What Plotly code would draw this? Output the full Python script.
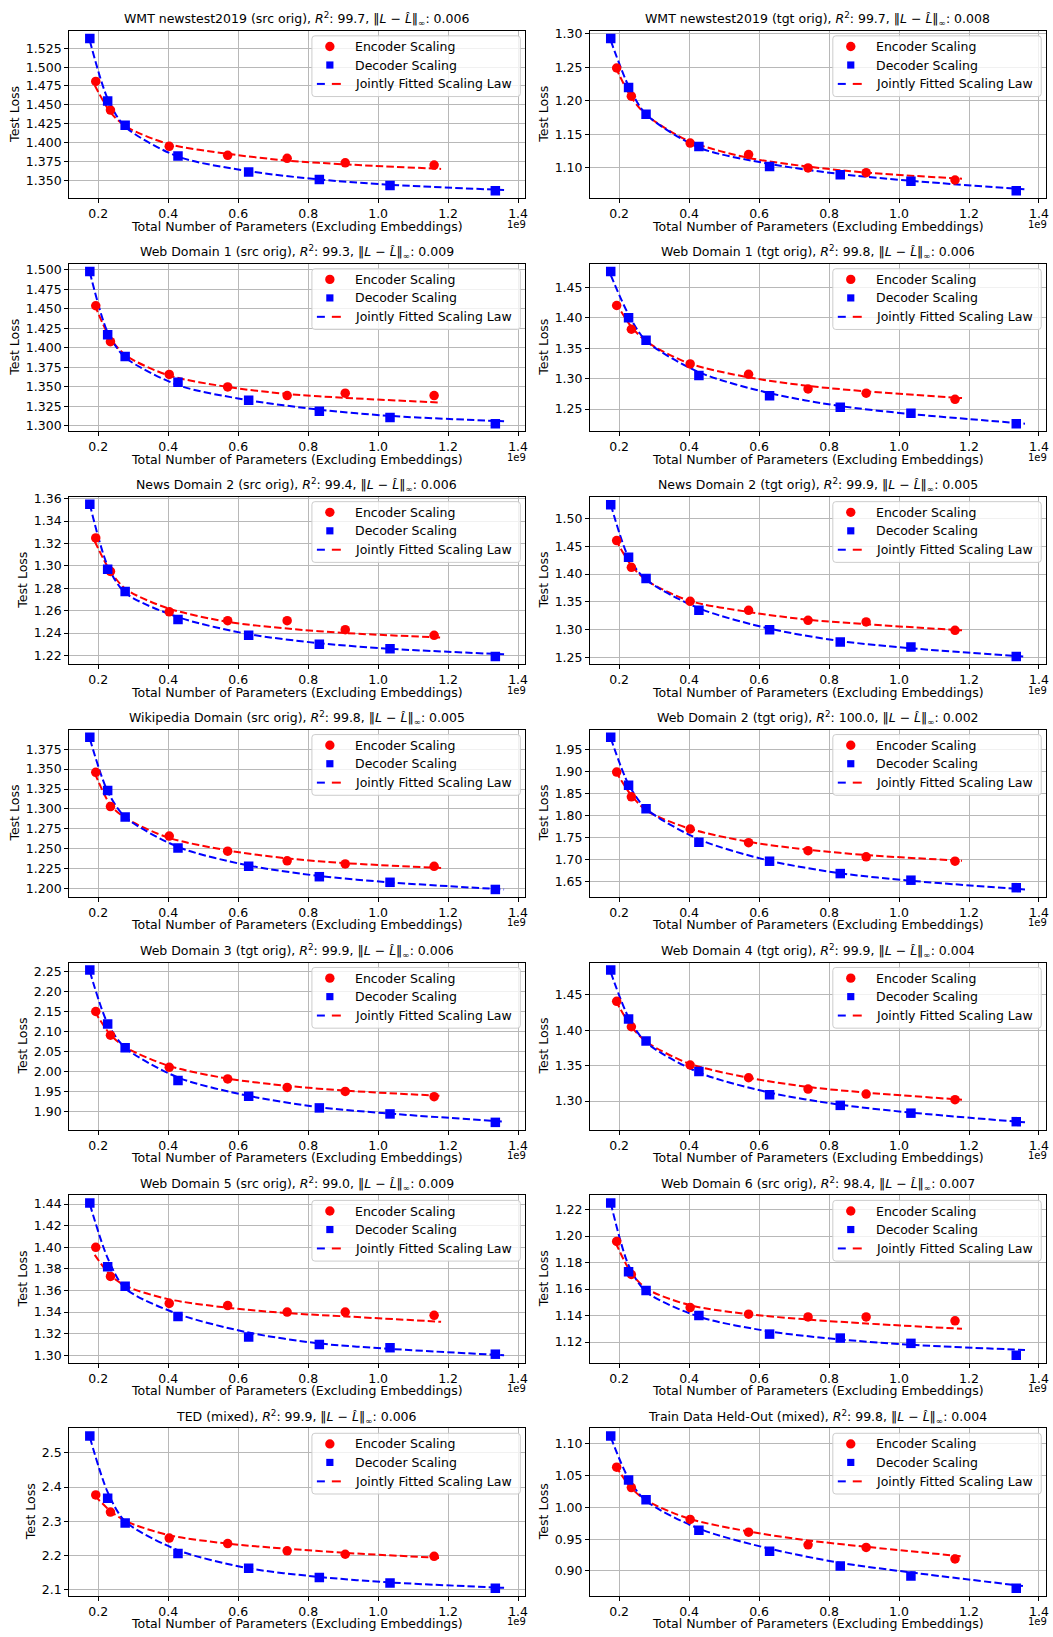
import plotly.graph_objects as go

W, H = 1053, 1637
FONT = "DejaVu Sans"

# ---------------- data ----------------
enc_x = [0.193, 0.235, 0.403, 0.570, 0.740, 0.906, 1.160]
dec_x = [0.176, 0.227, 0.277, 0.428, 0.630, 0.832, 1.034, 1.335]
enc_fit_x = [0.19, 0.235, 0.28, 0.40, 0.57, 0.74, 0.906, 1.18]
dec_fit_x = [0.176, 0.227, 0.277, 0.43, 0.63, 0.83, 1.03, 1.36]

names = ["WMT newstest2019 (src orig)", "WMT newstest2019 (tgt orig)",
         "Web Domain 1 (src orig)", "Web Domain 1 (tgt orig)",
         "News Domain 2 (src orig)", "News Domain 2 (tgt orig)",
         "Wikipedia Domain (src orig)", "Web Domain 2 (tgt orig)",
         "Web Domain 3 (tgt orig)", "Web Domain 4 (tgt orig)",
         "Web Domain 5 (src orig)", "Web Domain 6 (src orig)",
         "TED (mixed)", "Train Data Held-Out (mixed)"]
r2_values = ["99.7", "99.7", "99.3", "99.8", "99.4", "99.9", "99.8",
             "100.0", "99.9", "99.9", "99.0", "98.4", "99.9", "99.8"]
linf_values = ["0.006", "0.008", "0.009", "0.006", "0.006", "0.005", "0.005",
               "0.002", "0.006", "0.004", "0.009", "0.007", "0.006", "0.004"]

enc_loss = [
    [1.481, 1.443, 1.395, 1.383, 1.379, 1.373, 1.370],
    [1.249, 1.207, 1.137, 1.120, 1.100, 1.093, 1.082],
    [1.454, 1.408, 1.366, 1.350, 1.339, 1.342, 1.339],
    [1.420, 1.381, 1.324, 1.307, 1.283, 1.276, 1.266],
    [1.325, 1.295, 1.259, 1.251, 1.251, 1.243, 1.238],
    [1.460, 1.412, 1.351, 1.335, 1.317, 1.314, 1.299],
    [1.346, 1.303, 1.266, 1.247, 1.235, 1.231, 1.228],
    [1.898, 1.842, 1.769, 1.738, 1.720, 1.706, 1.696],
    [2.150, 2.091, 2.011, 1.982, 1.961, 1.951, 1.938],
    [1.441, 1.405, 1.351, 1.333, 1.317, 1.310, 1.302],
    [1.400, 1.373, 1.348, 1.346, 1.340, 1.340, 1.337],
    [1.196, 1.171, 1.146, 1.141, 1.139, 1.139, 1.136],
    [2.377, 2.327, 2.251, 2.235, 2.214, 2.204, 2.198],
    [1.063, 1.031, 0.981, 0.961, 0.941, 0.937, 0.919],
]
dec_loss = [
    [1.538, 1.455, 1.423, 1.382, 1.361, 1.351, 1.343, 1.336],
    [1.293, 1.220, 1.180, 1.132, 1.102, 1.090, 1.080, 1.066],
    [1.498, 1.417, 1.389, 1.356, 1.333, 1.319, 1.311, 1.303],
    [1.476, 1.400, 1.363, 1.305, 1.272, 1.253, 1.243, 1.226],
    [1.355, 1.297, 1.277, 1.252, 1.238, 1.230, 1.226, 1.219],
    [1.524, 1.430, 1.392, 1.335, 1.300, 1.278, 1.269, 1.252],
    [1.390, 1.323, 1.290, 1.251, 1.228, 1.215, 1.208, 1.199],
    [1.977, 1.868, 1.815, 1.739, 1.696, 1.668, 1.653, 1.636],
    [2.253, 2.119, 2.060, 1.978, 1.939, 1.910, 1.895, 1.874],
    [1.485, 1.416, 1.385, 1.342, 1.309, 1.294, 1.283, 1.271],
    [1.441, 1.382, 1.364, 1.336, 1.317, 1.310, 1.307, 1.301],
    [1.225, 1.173, 1.159, 1.140, 1.126, 1.123, 1.119, 1.110],
    [2.549, 2.367, 2.295, 2.206, 2.163, 2.136, 2.120, 2.105],
    [1.112, 1.043, 1.012, 0.964, 0.931, 0.908, 0.892, 0.873],
]
enc_fit = [
    [1.476, 1.440, 1.421, 1.398, 1.385, 1.376, 1.371, 1.365],
    [1.250, 1.205, 1.178, 1.140, 1.115, 1.102, 1.093, 1.084],
    [1.455, 1.412, 1.390, 1.365, 1.350, 1.341, 1.336, 1.330],
    [1.425, 1.385, 1.360, 1.325, 1.302, 1.288, 1.279, 1.268],
    [1.322, 1.295, 1.279, 1.262, 1.250, 1.244, 1.240, 1.236],
    [1.462, 1.415, 1.388, 1.352, 1.332, 1.318, 1.310, 1.299],
    [1.345, 1.305, 1.288, 1.264, 1.248, 1.238, 1.232, 1.226],
    [1.900, 1.845, 1.810, 1.770, 1.740, 1.722, 1.710, 1.697],
    [2.150, 2.092, 2.060, 2.015, 1.983, 1.965, 1.953, 1.940],
    [1.442, 1.405, 1.383, 1.353, 1.333, 1.320, 1.312, 1.302],
    [1.393, 1.374, 1.364, 1.352, 1.344, 1.339, 1.336, 1.331],
    [1.195, 1.172, 1.160, 1.148, 1.141, 1.137, 1.134, 1.130],
    [2.375, 2.330, 2.300, 2.260, 2.235, 2.220, 2.208, 2.193],
    [1.065, 1.030, 1.010, 0.982, 0.962, 0.948, 0.938, 0.923],
]
dec_fit = [
    [1.535, 1.458, 1.421, 1.381, 1.362, 1.351, 1.344, 1.337],
    [1.290, 1.222, 1.180, 1.130, 1.106, 1.091, 1.081, 1.068],
    [1.497, 1.420, 1.388, 1.352, 1.333, 1.321, 1.313, 1.306],
    [1.470, 1.405, 1.362, 1.310, 1.276, 1.255, 1.242, 1.226],
    [1.355, 1.300, 1.276, 1.254, 1.239, 1.231, 1.226, 1.221],
    [1.525, 1.430, 1.390, 1.338, 1.302, 1.280, 1.267, 1.252],
    [1.388, 1.322, 1.290, 1.252, 1.229, 1.216, 1.208, 1.199],
    [1.975, 1.870, 1.815, 1.745, 1.697, 1.669, 1.652, 1.632],
    [2.250, 2.120, 2.060, 1.985, 1.940, 1.912, 1.896, 1.876],
    [1.482, 1.418, 1.383, 1.340, 1.312, 1.295, 1.284, 1.270],
    [1.440, 1.390, 1.362, 1.338, 1.321, 1.311, 1.306, 1.300],
    [1.225, 1.178, 1.158, 1.139, 1.128, 1.122, 1.118, 1.114],
    [2.545, 2.385, 2.300, 2.215, 2.163, 2.138, 2.122, 2.106],
    [1.110, 1.045, 1.010, 0.966, 0.935, 0.913, 0.898, 0.876],
]
y_tick_step = [0.025, 0.05, 0.025, 0.05, 0.02, 0.05, 0.025,
               0.05, 0.05, 0.05, 0.02, 0.02, 0.1, 0.05]
y_tick_decimals = [3, 2, 3, 2, 2, 2, 3, 2, 2, 2, 2, 2, 1, 2]
x_tick_step = 0.2

# ---------------- layout geometry (pixels) ----------------
COL_LEFT = [69.3, 591.7]
PW, PH = 457.0, 168.3
ROW_TOP0, ROW_PITCH = 25.0, 234.05

RED, BLUE = "#ff0000", "#0000ff"
DASH = "7.4px,3.2px"


def px(x):
    return x / W


def py(y):
    return 1 - y / H


fig = go.Figure()
layout = dict(width=W, height=H, margin=dict(l=0, r=0, t=0, b=0),
              paper_bgcolor="white", plot_bgcolor="white", showlegend=False,
              font=dict(family=FONT, size=12.5, color="black"))
annotations = []
shapes = []

axis_common = dict(showline=True, linecolor="black", linewidth=1, mirror=True,
                   ticks="outside", ticklen=4, tickwidth=1, tickcolor="black",
                   showgrid=True, gridcolor="#b8b8b8", gridwidth=0.8,
                   zeroline=False, tickmode="linear", tick0=0,
                   tickfont=dict(family=FONT, size=12.5, color="black"))


def pad_range(vals):
    lo, hi = min(vals), max(vals)
    m = 0.05 * (hi - lo)
    return [lo - m, hi + m]


for i in range(14):
    r, c = divmod(i, 2)
    L = COL_LEFT[c]
    R = L + PW
    T = ROW_TOP0 + ROW_PITCH * r
    B = T + PH
    sfx = "" if i == 0 else str(i + 1)
    xname, yname = "x" + sfx, "y" + sfx

    xr = pad_range(enc_fit_x + dec_fit_x + enc_x + dec_x)
    yr = pad_range(enc_loss[i] + dec_loss[i] + enc_fit[i] + dec_fit[i])

    layout["xaxis" + sfx] = dict(axis_common, domain=[px(L), px(R)], anchor=yname,
                                 range=xr, dtick=x_tick_step, tickformat=".1f")
    layout["yaxis" + sfx] = dict(axis_common, domain=[py(B), py(T)], anchor=xname,
                                 range=yr, dtick=y_tick_step[i],
                                 tickformat=".%df" % y_tick_decimals[i])

    # fitted curves
    fig.add_trace(go.Scatter(x=enc_fit_x, y=enc_fit[i], mode="lines",
                             line=dict(color=RED, width=2, dash=DASH, shape="spline", smoothing=0.8),
                             xaxis=xname, yaxis=yname, hoverinfo="skip"))
    fig.add_trace(go.Scatter(x=dec_fit_x, y=dec_fit[i], mode="lines",
                             line=dict(color=BLUE, width=2, dash=DASH, shape="spline", smoothing=0.8),
                             xaxis=xname, yaxis=yname, hoverinfo="skip"))
    # measured points
    fig.add_trace(go.Scatter(x=enc_x, y=enc_loss[i], mode="markers", name="Encoder Scaling",
                             marker=dict(symbol="circle", size=9.5, color=RED, line=dict(width=0)),
                             xaxis=xname, yaxis=yname))
    fig.add_trace(go.Scatter(x=dec_x, y=dec_loss[i], mode="markers", name="Decoder Scaling",
                             marker=dict(symbol="square", size=9.5, color=BLUE, line=dict(width=0)),
                             xaxis=xname, yaxis=yname))

    # title
    title = ("%s, <i>R</i><sup>2</sup>: %s, \u2016<i>L</i> \u2212 <i>L\u0302</i>\u2016<sub>\u221e</sub>: %s"
             % (names[i], r2_values[i], linf_values[i]))
    annotations.append(dict(text=title, xref="paper", yref="paper", x=px((L + R) / 2),
                            y=py(T - 11.5), xanchor="center", yanchor="middle", showarrow=False,
                            font=dict(family=FONT, size=12.5, color="black")))
    # axis titles
    annotations.append(dict(text="Total Number of Parameters (Excluding Embeddings)",
                            xref="paper", yref="paper", x=px((L + R) / 2), y=py(B + 28),
                            xanchor="center", yanchor="middle", showarrow=False,
                            font=dict(family=FONT, size=12.5, color="black")))
    annotations.append(dict(text="1e9", xref="paper", yref="paper", x=px(R - 8), y=py(B + 26),
                            xanchor="center", yanchor="middle", showarrow=False,
                            font=dict(family=FONT, size=10, color="black")))
    label_w = {3: 36, 2: 28, 1: 20}[y_tick_decimals[i]]
    annotations.append(dict(text="Test Loss", xref="paper", yref="paper",
                            x=px(L - 7 - label_w - 12), y=py((T + B) / 2), textangle=-90,
                            xanchor="center", yanchor="middle", showarrow=False,
                            font=dict(family=FONT, size=12.5, color="black")))

    # legend box (rounded)
    x0, x1, y0, y1, rr = R - 213.5, R - 4.5, T + 5, T + 66, 3
    pts = [("M", x0 + rr, y0), ("L", x1 - rr, y0), ("Q", x1, y0, x1, y0 + rr),
           ("L", x1, y1 - rr), ("Q", x1, y1, x1 - rr, y1), ("L", x0 + rr, y1),
           ("Q", x0, y1, x0, y1 - rr), ("L", x0, y0 + rr), ("Q", x0, y0, x0 + rr, y0)]
    path = ""
    for p in pts:
        if p[0] == "Q":
            path += "Q%.6f,%.6f %.6f,%.6f " % (px(p[1]), py(p[2]), px(p[3]), py(p[4]))
        else:
            path += "%s%.6f,%.6f " % (p[0], px(p[1]), py(p[2]))
    path += "Z"
    shapes.append(dict(type="path", path=path, xref="paper", yref="paper",
                       fillcolor="rgba(255,255,255,0.8)", line=dict(color="#cccccc", width=1),
                       layer="above"))
    mx = R - 195.5
    cr = 4.7
    shapes.append(dict(type="circle", xref="paper", yref="paper",
                       x0=px(mx - cr), x1=px(mx + cr), y0=py(T + 15.7 + cr), y1=py(T + 15.7 - cr),
                       fillcolor=RED, line=dict(width=0), layer="above"))
    sq = 3.6
    shapes.append(dict(type="rect", xref="paper", yref="paper",
                       x0=px(mx - sq), x1=px(mx + sq), y0=py(T + 34.3 + sq), y1=py(T + 34.3 - sq),
                       fillcolor=BLUE, line=dict(width=0), layer="above"))
    ly = T + 53.3
    shapes.append(dict(type="line", xref="paper", yref="paper", x0=px(R - 208.5), x1=px(R - 200.5),
                       y0=py(ly), y1=py(ly), line=dict(color=BLUE, width=2), layer="above"))
    shapes.append(dict(type="line", xref="paper", yref="paper", x0=px(R - 193.5), x1=px(R - 184.5),
                       y0=py(ly), y1=py(ly), line=dict(color=RED, width=2), layer="above"))
    for txt, dy in (("Encoder Scaling", 15.7), ("Decoder Scaling", 34.3),
                    ("Jointly Fitted Scaling Law", 53.3)):
        annotations.append(dict(text=txt, xref="paper", yref="paper", x=px(R - 172.5),
                                y=py(T + dy), xanchor="left", yanchor="middle", showarrow=False,
                                font=dict(family=FONT, size=12.5, color="black")))

layout["annotations"] = annotations
layout["shapes"] = shapes
fig.update_layout(**layout)
fig.write_html("out.html")
